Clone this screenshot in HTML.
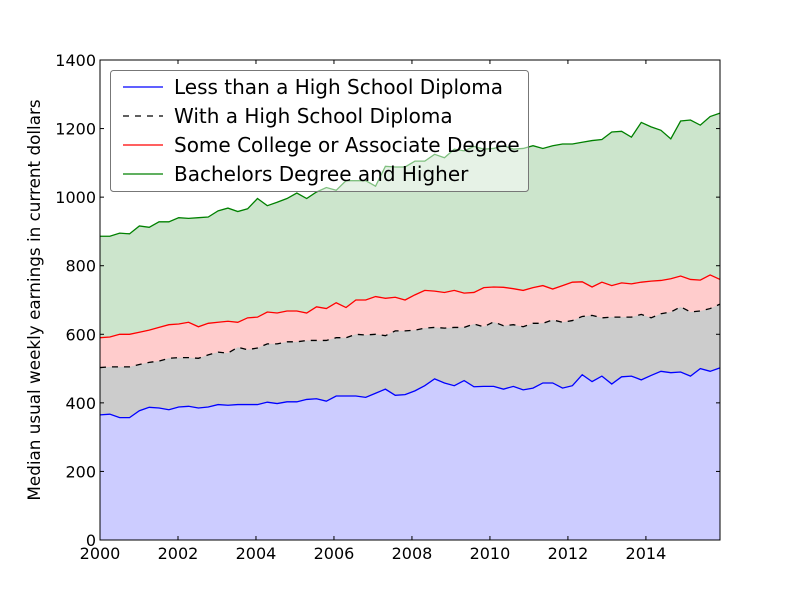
<!DOCTYPE html>
<html><head><meta charset="utf-8"><style>
body{margin:0;background:#fff}
svg text{font-family:"DejaVu Sans","Liberation Sans",sans-serif}
</style></head><body>
<svg id="chart" width="800" height="600"></svg>
<script>
const seriesNames=["Less than a High School Diploma","With a High School Diploma","Some College or Associate Degree","Bachelors Degree and Higher"];
const lessHS=[365,367,357,357,377,387,385,380,388,390,385,388,395,393,395,395,395,402,398,403,403,410,412,405,420,420,420,416,428,440,422,424,435,450,470,458,450,465,447,448,448,440,448,438,443,458,458,443,450,482,462,478,455,476,478,467,480,492,488,490,478,500,492,502];
const highSchool=[503,505,505,505,512,518,522,530,532,532,530,540,548,545,562,555,560,572,572,578,578,582,582,582,590,590,600,598,600,596,610,610,612,618,620,618,620,620,630,622,636,625,628,622,632,632,642,635,640,652,655,648,650,650,650,658,648,660,665,680,665,668,675,688];
const someCollege=[590,592,600,600,606,612,620,628,630,635,622,632,635,638,635,648,650,665,662,668,668,662,680,675,692,678,700,700,710,705,708,700,715,728,726,722,728,720,722,736,738,737,733,728,736,742,732,742,752,753,738,752,742,750,747,752,755,757,762,770,760,758,773,760];
const bachelors=[886,886,895,893,916,912,928,928,940,938,940,942,960,968,958,966,996,975,985,996,1012,996,1015,1028,1020,1048,1048,1048,1032,1090,1088,1088,1105,1105,1125,1115,1140,1135,1148,1140,1142,1150,1140,1142,1150,1142,1150,1155,1155,1160,1165,1168,1190,1192,1175,1218,1205,1195,1170,1222,1225,1210,1235,1245];
const xTicks=[2000,2002,2004,2006,2008,2010,2012,2014];
const yTicks=[0,200,400,600,800,1000,1200,1400];

const NS="http://www.w3.org/2000/svg";
const svg=document.getElementById('chart');
const L=100,R=720,T=60,B=540,X0=2000,X1=2015.9,Y0=0,Y1=1400;
const xs=v=>L+(v-X0)/(X1-X0)*(R-L);
const ys=v=>B-(v-Y0)/(Y1-Y0)*(B-T);
const xAt=i=>X0+i*(X1-X0)/(lessHS.length-1);
function el(t,a,p){const e=document.createElementNS(NS,t);for(const k in a)e.setAttribute(k,a[k]);(p||svg).appendChild(e);return e;}
function pts(arr){return arr.map((v,i)=>xs(xAt(i)).toFixed(2)+","+ys(v).toFixed(2)).join(" ");}
const data=[lessHS,highSchool,someCollege,bachelors];
const lineCols=["#0000ff","#000000","#ff0000","#008000"];
const fillCols=["#ccccff","#cccccc","#ffcccc","#cce5cc"];
const keys=["less-hs","high-school","some-college","bachelors"];
for(let s=3;s>=0;s--){
  const p=pts(data[s])+" "+xs(xAt(data[s].length-1))+","+ys(0)+" "+xs(X0)+","+ys(0);
  const f=el('polygon',{points:p,fill:fillCols[s],stroke:'none'});
  
  
}
for(let s=0;s<4;s++){
  const a={points:pts(data[s]),fill:'none',stroke:lineCols[s],'stroke-width':1.3};
  if(s==1)a['stroke-dasharray']='6,6';
  const l=el('polyline',a);
  
  
}
const frame=el('rect',{x:L,y:T,width:R-L,height:B-T,fill:'none',stroke:'#000','stroke-width':1});


xTicks.forEach(v=>{
  const x=xs(v);
  el('line',{x1:x,x2:x,y1:B,y2:B-4,stroke:'#000'});
  el('line',{x1:x,x2:x,y1:T,y2:T+4,stroke:'#000'});
  const t=el('text',{x:x,y:B+19,'text-anchor':'middle','font-size':16});
  t.textContent=v;
  
  
});
yTicks.forEach(v=>{
  const y=ys(v);
  el('line',{x1:L,x2:L+4,y1:y,y2:y,stroke:'#000'});
  el('line',{x1:R,x2:R-4,y1:y,y2:y,stroke:'#000'});
  const t=el('text',{x:L-4,y:y+6,'text-anchor':'end','font-size':16});
  t.textContent=v;
  
  
});
const yt=el('text',{x:40,y:300,'text-anchor':'middle','font-size':16.8,transform:'rotate(-90 40 300)'});
yt.textContent='Median usual weekly earnings in current dollars';


const lg=el('g',{});


el('rect',{x:110.5,y:70.5,width:418,height:121,rx:3,fill:'#fff','fill-opacity':0.5,stroke:'#777','stroke-width':1},lg);
seriesNames.forEach((n,i)=>{
  const y=87+i*29;
  const a={x1:123,x2:163,y1:y,y2:y,stroke:lineCols[i],'stroke-width':1.3};
  if(i==1)a['stroke-dasharray']='6,6';
  el('line',a,lg);
  const t=el('text',{x:174,y:y+7,'font-size':20},lg);
  t.textContent=n;
  
  
});
</script>
</body></html>
